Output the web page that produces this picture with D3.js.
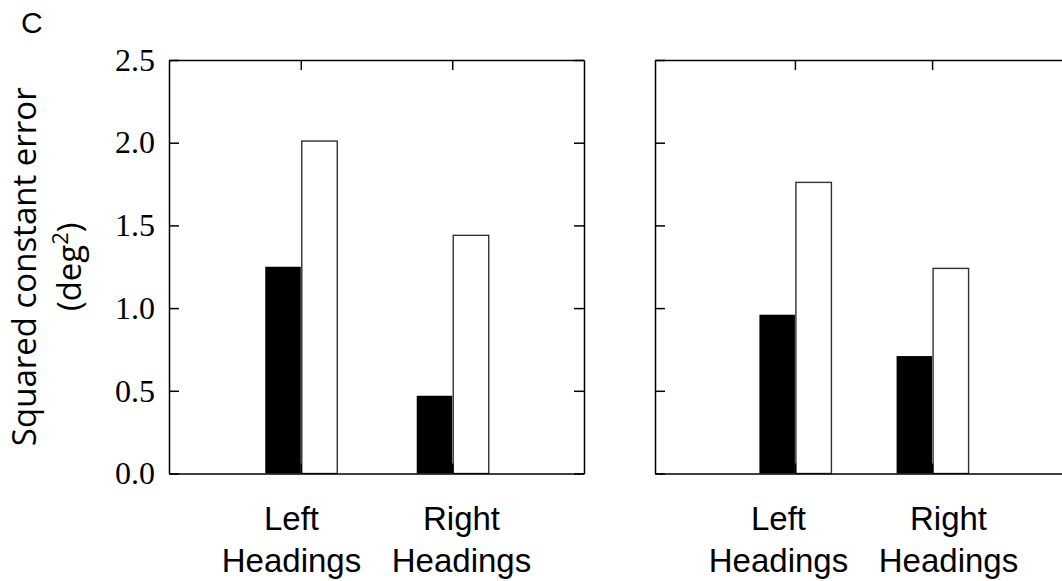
<!DOCTYPE html>
<html>
<head>
<meta charset="utf-8">
<script src="https://cdn.jsdelivr.net/npm/d3@7"></script>
<style>
  body { margin: 0; background: #fff; }
</style>
</head>
<body>
<script>
// values
const categories = ['Left Headings', 'Right Headings'];
const catLines = [['Left', 'Headings'], ['Right', 'Headings']];
const yTicks = [0, 0.5, 1.0, 1.5, 2.0, 2.5];

const panel1Black = [1.25, 0.47];
const panel1White = [2.01, 1.44];
const panel2Black = [0.96, 0.71];
const panel2White = [1.76, 1.24];

const width = 1062;
const height = 581;

const svg = d3.select('body')
              .append('svg')
              .attr('width', width)
              .attr('height', height);

const yScale = d3.scaleLinear()
                 .domain([0, 2.5])
                 .range([473.5, 60]);

svg.append('text')
   .attr('x', 21)
   .attr('y', 33)
   .attr('font-family', 'Liberation Sans, Arial, sans-serif')
   .attr('font-size', 30)
   .text('C');

// y label
const yl = svg.append('text')
   .attr('transform', `translate(0, ${yScale(1.25)}) rotate(-90)`)
   .attr('text-anchor', 'middle')
   .attr('font-family', 'Open Sans, sans-serif')
   .attr('font-size', 33);
yl.append('tspan').attr('x', 0).attr('y', 36).text('Squared constant error');
const l2 = yl.append('tspan').attr('x', 0).attr('y', 81).text('(deg');
l2.append('tspan').attr('font-size', 22).attr('dy', -13).text('2');
l2.append('tspan').attr('dy', 13).text(')');

function drawPanel(x0, x1, domain, black, white, showLabels) {
    const xScale = d3.scaleLinear()
                     .domain(domain)
                     .range([x0, x1]);
    const g = svg.append('g');
    const bw = 35.5;

    g.selectAll('rect.black')
     .data(black)
     .enter()
     .append('rect')
     .attr('class', 'black')
     .attr('x', (d, i) => xScale(i + 1) - bw)
     .attr('y', d => yScale(d))
     .attr('width', bw)
     .attr('height', d => yScale(0) - yScale(d))
     .attr('fill', '#000');

    g.selectAll('rect.white')
     .data(white)
     .enter()
     .append('rect')
     .attr('class', 'white')
     .attr('x', (d, i) => xScale(i + 1) + 1)
     .attr('y', d => yScale(d))
     .attr('width', bw)
     .attr('height', d => yScale(0) - yScale(d))
     .attr('fill', '#fff')
     .attr('stroke', '#333')
     .attr('stroke-width', 1.4);

    // inward ticks on all sides
    const left = d3.axisLeft(yScale).tickValues(yTicks).tickSizeInner(-10).tickSizeOuter(0)
                   .tickFormat(showLabels ? d3.format('.1f') : '');
    const ga = g.append('g').attr('transform', `translate(${x0}, 0)`).call(left);
    ga.selectAll('text')
      .attr('x', -14)
      .attr('font-family', 'Liberation Serif, Times New Roman, serif')
      .attr('font-size', 32)
      .attr('fill', '#000');

    const right = d3.axisRight(yScale).tickValues(yTicks).tickSizeInner(-10).tickSizeOuter(0).tickFormat('');
    g.append('g').attr('transform', `translate(${x1}, 0)`).call(right);

    const top = d3.axisTop(xScale).tickValues([1, 2]).tickSizeInner(-10).tickSizeOuter(0).tickFormat('');
    g.append('g').attr('transform', `translate(0, ${yScale(2.5)})`).call(top);

    const bottom = d3.axisBottom(xScale).tickValues([1, 2]).tickSizeInner(-10).tickSizeOuter(0).tickFormat('');
    g.append('g').attr('transform', `translate(0, ${yScale(0)})`).call(bottom);

    g.selectAll('.domain, .tick line')
     .attr('stroke', '#000')
     .attr('stroke-width', 1.5);

    // category labels
    const mid = (x0 + x1) / 2;
    const lab = g.selectAll('text.cat')
     .data(catLines)
     .enter()
     .append('text')
     .attr('class', 'cat')
     .attr('text-anchor', 'middle')
     .attr('font-family', 'Liberation Sans, Arial, sans-serif')
     .attr('font-size', 33)
     .attr('transform', (d, i) => `translate(${mid + (i === 0 ? -85 : 85)}, 0)`);
    lab.append('tspan').attr('x', 0).attr('y', 530).text(d => d[0]);
    lab.append('tspan').attr('x', 0).attr('y', 572).text(d => d[1]);
}

drawPanel(169, 584, [0.13, 2.87], panel1Black, panel1White, true);
drawPanel(655, 1072, [-0.02, 3.02], panel2Black, panel2White, false);
</script>
</body>
</html>
